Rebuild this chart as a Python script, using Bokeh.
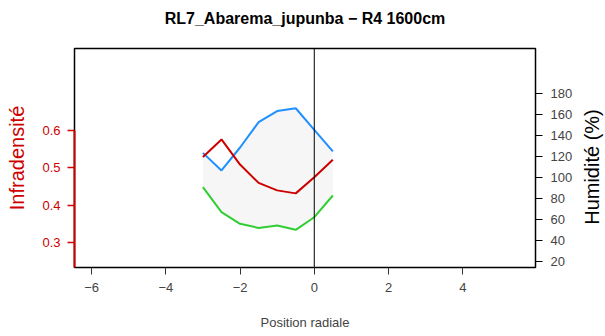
import math
from bokeh.plotting import figure
from bokeh.models import Range1d, LinearAxis, FixedTicker, Span, Label, Title
from bokeh.embed import file_html
from bokeh.resources import INLINE

# Data
position = [-3.0, -2.5, -2.0, -1.5, -1.0, -0.5, 0.0, 0.5]
infradensite = [0.529, 0.576, 0.509, 0.460, 0.440, 0.432, 0.475, 0.522]
humidite_haute = [123.5, 106.7, 128.6, 152.7, 163.3, 166.0, 145.4, 125.0]
humidite_basse = [90.8, 67.0, 55.9, 52.0, 54.3, 50.2, 62.2, 82.9]

x_ticks = [-6, -4, -2, 0, 2, 4]
infra_ticks = [0.3, 0.4, 0.5, 0.6]
hum_ticks = [20, 40, 60, 80, 100, 120, 140, 160, 180]

title = "RL7_Abarema_jupunba \u2212 R4 1600cm"
hum_title = "Humidité (%)"
FONT = "Liberation Sans"
RED = "#CD0000"
BLUE = "#1E90FF"
GREEN = "#32CD32"

X_MIN, X_MAX = -6.46, 5.96
HUM_MIN, HUM_MAX = 14.3, 222.9

p = figure(width=605, height=336, output_backend="svg", toolbar_location=None,
           x_range=Range1d(X_MIN, X_MAX), y_range=Range1d(0.234, 0.819),
           min_border_left=74, min_border_right=70, min_border_top=48, min_border_bottom=69)
p.extra_y_ranges = {"hum": Range1d(HUM_MIN, HUM_MAX)}

p.xgrid.visible = False
p.ygrid.visible = False
p.outline_line_color = "black"
p.outline_line_width = 1.5
p.background_fill_color = "white"
p.border_fill_color = "white"

# small gap between the frame and the title
p.add_layout(Title(text=" ", text_font_size="1px", standoff=12), "above")

p.title.text = title
p.title.align = "center"
p.title.text_font = FONT
p.title.text_font_size = "16px"
p.title.text_font_style = "bold"
p.title.text_color = "black"
p.title.standoff = 14

# bottom axis
xa = p.xaxis[0]
xa.ticker = FixedTicker(ticks=x_ticks)
xa.major_label_overrides = {t: (str(t).replace("-", "\u2212")) for t in x_ticks}
xa.axis_label = "Position radiale"
xa.axis_label_text_font = FONT
xa.axis_label_text_font_size = "13px"
xa.axis_label_text_font_style = "normal"
xa.axis_label_standoff = 20
xa.major_label_text_font = FONT
xa.major_label_text_font_size = "13px"
xa.major_label_standoff = 8
xa.major_tick_in = 0
xa.major_tick_out = 7
xa.minor_tick_out = 0
xa.minor_tick_in = 0
xa.axis_line_color = "black"
xa.major_tick_line_color = "#333333"

# left axis (Infradensité)
ya = p.yaxis[0]
ya.ticker = FixedTicker(ticks=infra_ticks)
ya.bounds = (0.234, 0.6)
ya.axis_label = "Infradensité"
ya.axis_label_text_font = FONT
ya.axis_label_text_font_size = "20px"
ya.axis_label_text_font_style = "normal"
ya.axis_label_text_color = RED
ya.axis_label_standoff = 11
ya.major_label_text_font = FONT
ya.major_label_text_font_size = "13px"
ya.major_label_text_color = RED
ya.major_label_standoff = 7
ya.major_tick_in = 0
ya.major_tick_out = 7
ya.minor_tick_out = 0
ya.minor_tick_in = 0
ya.axis_line_color = RED
ya.axis_line_width = 2
ya.major_tick_line_color = RED
ya.major_tick_line_width = 1.5

# right axis (Humidité)
ra = LinearAxis(y_range_name="hum", ticker=FixedTicker(ticks=hum_ticks), bounds=(20, 180))
ra.major_label_text_font = FONT
ra.major_label_text_font_size = "13px"
ra.major_label_standoff = 8
ra.major_tick_in = 0
ra.major_tick_out = 7
ra.minor_tick_out = 0
ra.minor_tick_in = 0
ra.axis_line_color = "black"
p.add_layout(ra, "right")

# right axis title, reading bottom to top (placed in the right side panel)
p.add_layout(Label(x=X_MAX, y=110, y_range_name="hum", x_offset=56, text=hum_title,
                   angle=math.pi / 2, text_align="center", text_baseline="middle",
                   text_font=FONT, text_font_size="20px", text_color="black"), "right")

# shaded band between the humidity curves
p.patch(x=position + position[::-1], y=humidite_haute + humidite_basse[::-1],
        y_range_name="hum", fill_color="#F6F6F6", line_color=None)

p.add_layout(Span(location=0, dimension="height", line_color="black", line_width=1))

p.line(position, humidite_haute, y_range_name="hum", line_color=BLUE, line_width=2)
p.line(position, humidite_basse, y_range_name="hum", line_color=GREEN, line_width=2)
p.line(position, infradensite, line_color=RED, line_width=2)

open("out.html", "w").write(file_html(p, INLINE))
